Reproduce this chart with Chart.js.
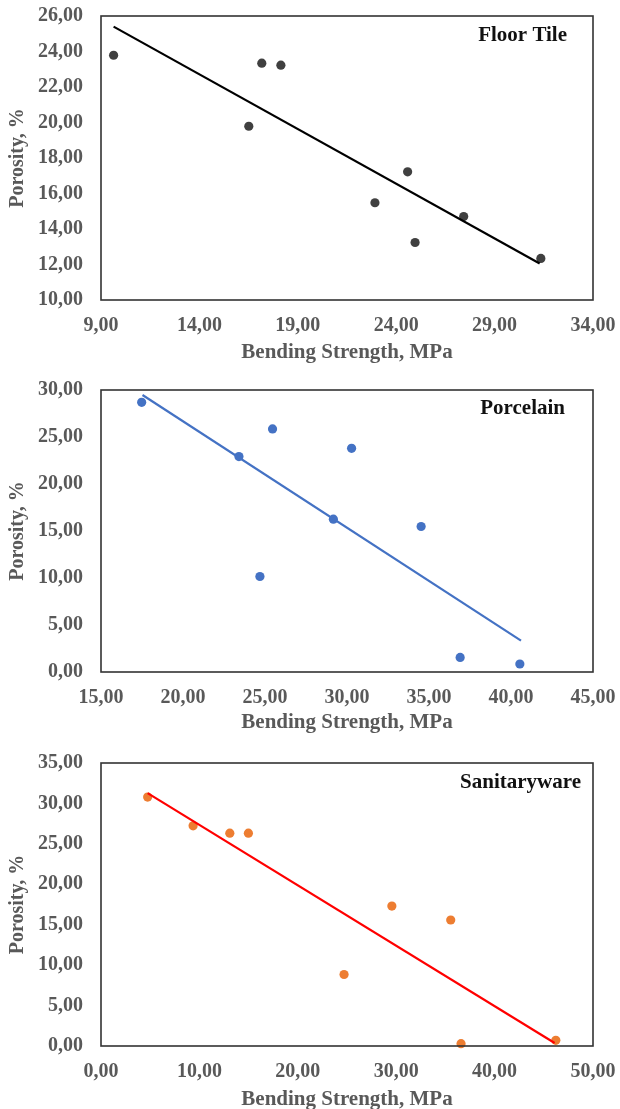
<!DOCTYPE html>
<html>
<head>
<meta charset="utf-8">
<script src="https://cdn.jsdelivr.net/npm/chart.js@4/dist/chart.umd.min.js"></script>
<style>
  html, body { margin: 0; padding: 0; background: #fff; width: 620px; height: 1109px; overflow: hidden; }
  .wrap { position: absolute; left: 0; width: 620px; }
  canvas { display: block; }
</style>
</head>
<body>
<div class="wrap" id="w1" style="top:0px;height:365px;"><canvas id="c1" width="620" height="365"></canvas></div>
<div class="wrap" id="w2" style="top:365px;height:370px;"><canvas id="c2" width="620" height="370"></canvas></div>
<div class="wrap" id="w3" style="top:735px;height:377px;"><canvas id="c3" width="620" height="377"></canvas></div>
<script>
// ---------- Data ----------
const floorX = [9.64, 16.51, 17.17, 18.14, 22.92, 24.58, 24.96, 27.43, 31.35];
const floorY = [23.79, 19.79, 23.34, 23.23, 15.48, 17.22, 13.24, 14.70, 12.34];
const floorTrendX = [9.64, 31.29];
const floorTrendY = [25.40, 12.06];
const floorXRange = [9, 34, 5];
const floorYRange = [10, 26, 2];

const porcX = [17.48, 23.41, 25.46, 24.69, 30.28, 29.17, 34.52, 36.90, 40.54];
const porcY = [28.69, 22.92, 25.86, 10.16, 23.80, 16.26, 15.48, 1.55, 0.85];
const porcTrendX = [17.53, 40.61];
const porcTrendY = [29.47, 3.33];
const porcXRange = [15, 45, 5];
const porcYRange = [0, 30, 5];

const sanX = [4.74, 9.36, 13.09, 14.98, 24.70, 29.56, 35.54, 36.59, 46.22];
const sanY = [30.79, 27.23, 26.32, 26.32, 8.84, 17.31, 15.58, 0.29, 0.70];
const sanTrendX = [4.74, 46.10];
const sanTrendY = [31.28, 0.37];
const sanXRange = [0, 50, 10];
const sanYRange = [0, 35, 5];

const xTitle = 'Bending Strength, MPa';
const yTitle = 'Porosity, %';
const chartLabels = ['Floor Tile', 'Porcelain', 'Sanitaryware'];

// ---------- Helpers ----------
const FONT = "'Liberation Serif', 'Times New Roman', serif";
const TICK_COLOR = '#595959';
const fmt = v => Number(v).toFixed(2).replace('.', ',');
const pts = (xs, ys) => xs.map((x, i) => ({ x: x, y: ys[i] }));
const zeroPad = s => { s.paddingTop = 0; s.paddingBottom = 0; s.paddingLeft = 0; s.paddingRight = 0; };

const frameLabel = {
  id: 'frameLabel',
  afterDatasetsDraw(chart, args, opts) {
    const { ctx, chartArea: a } = chart;
    ctx.save();
    ctx.strokeStyle = '#333333';
    ctx.lineWidth = 1.6;
    ctx.strokeRect(a.left, a.top, a.right - a.left, a.bottom - a.top);
    ctx.fillStyle = '#111111';
    ctx.font = "bold 21px " + FONT;
    ctx.textAlign = 'right';
    ctx.textBaseline = 'middle';
    ctx.fillText(opts.text, a.right - opts.dx, a.top + opts.dy);
    ctx.restore();
  }
};

function makeChart(id, xs, ys, tx, ty, xr, yr, ptColor, lineColor, label, dx, dy, layout) {
  const ctx = document.getElementById(id);
  return new Chart(ctx, {
    type: 'scatter',
    data: {
      datasets: [
        {
          label: 'trend',
          data: pts(tx, ty),
          showLine: true,
          borderColor: lineColor,
          borderWidth: 2.2,
          pointRadius: 0,
          clip: false
        },
        {
          label: label,
          data: pts(xs, ys),
          backgroundColor: ptColor,
          borderColor: ptColor,
          pointRadius: 4.6,
          borderWidth: 0,
          clip: false
        }
      ]
    },
    options: {
      responsive: false,
      animation: false,
      events: [],
      layout: { padding: { left: 0, right: 27, top: layout.top, bottom: 0 } },
      plugins: {
        legend: { display: false },
        tooltip: { enabled: false },
        frameLabel: { text: label, dx: dx, dy: dy }
      },
      scales: {
        x: {
          type: 'linear',
          min: xr[0], max: xr[1],
          border: { display: false },
          grid: { display: false, drawTicks: false },
          afterFit: s => { s.height = layout.xh; zeroPad(s); },
          ticks: {
            stepSize: xr[2],
            padding: 14,
            color: TICK_COLOR,
            font: { family: FONT, size: 20, weight: 'bold' },
            maxRotation: 0,
            callback: v => fmt(v)
          },
          title: {
            display: true,
            text: xTitle,
            color: TICK_COLOR,
            font: { family: FONT, size: 21, weight: 'bold' },
            padding: { top: 0, bottom: 0 }
          }
        },
        y: {
          type: 'linear',
          min: yr[0], max: yr[1],
          border: { display: false },
          grid: { display: false, drawTicks: false },
          afterFit: s => { s.width = 101; zeroPad(s); },
          ticks: {
            stepSize: yr[2],
            padding: 18,
            color: TICK_COLOR,
            font: { family: FONT, size: 20, weight: 'bold' },
            callback: v => fmt(v)
          },
          title: {
            display: true,
            text: yTitle,
            color: TICK_COLOR,
            font: { family: FONT, size: 20, weight: 'bold' },
            padding: { top: 6, bottom: 0 }
          }
        }
      }
    },
    plugins: [frameLabel]
  });
}

makeChart('c1', floorX, floorY, floorTrendX, floorTrendY, floorXRange, floorYRange,
  '#404040', '#000000', chartLabels[0], 26, 20, { top: 16, xh: 65 });
makeChart('c2', porcX, porcY, porcTrendX, porcTrendY, porcXRange, porcYRange,
  '#4472C4', '#4472C4', chartLabels[1], 28, 19, { top: 25, xh: 63 });
makeChart('c3', sanX, sanY, sanTrendX, sanTrendY, sanXRange, sanYRange,
  '#ED7D31', '#FF0000', chartLabels[2], 12, 20, { top: 28, xh: 66 });
</script>
</body>
</html>
